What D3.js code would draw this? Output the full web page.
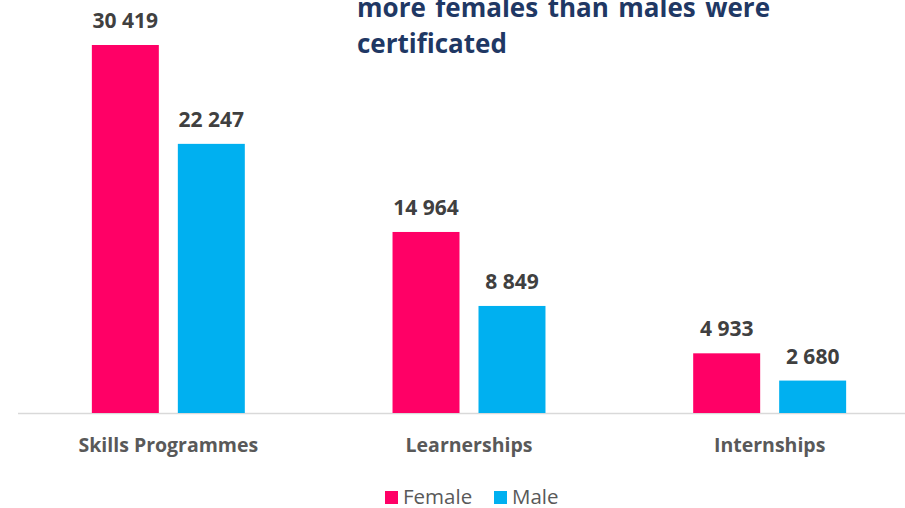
<!DOCTYPE html>
<html>
<head>
<meta charset="utf-8">
<script src="https://cdn.jsdelivr.net/npm/d3@7"></script>
<style>
  html, body { margin: 0; padding: 0; background: #fff; }
  svg { display: block; font-family: "Open Sans", sans-serif; }
</style>
</head>
<body>
<svg id="chart" width="905" height="508"></svg>
<script>
const categories = ["Skills Programmes", "Learnerships", "Internships"];
const series = ["Female", "Male"];
const femaleValues = [30419, 14964, 4933];
const maleValues = [22247, 8849, 2680];
const valueLabels = {
  Female: ["30 419", "14 964", "4 933"],
  Male: ["22 247", "8 849", "2 680"]
};
const titleLines = ["more females than males were", "certificated"];
const colors = { Female: "#FF0066", Male: "#00B0F0" };

const data = categories.map((c, i) => ({
  category: c,
  values: [
    { key: "Female", value: femaleValues[i], label: valueLabels.Female[i] },
    { key: "Male", value: maleValues[i], label: valueLabels.Male[i] }
  ]
}));

const svg = d3.select("#chart");
const baseY = 413;

const x0 = d3.scaleBand().domain(categories).range([18, 920]).padding(0);
const x1 = d3.scaleBand().domain(series).range([0, x0.bandwidth()])
  .paddingInner(0.221).paddingOuter(0.859);
const y = d3.scaleLinear().domain([0, 30419]).range([baseY, 45]);

// axis baseline
svg.append("line")
  .attr("x1", 18).attr("x2", 905)
  .attr("y1", baseY + 0.5).attr("y2", baseY + 0.5)
  .attr("stroke", "#d9d9d9").attr("stroke-width", 1.5);

const groups = svg.selectAll("g.grp").data(data).join("g")
  .attr("class", "grp")
  .attr("transform", d => `translate(${x0(d.category)},0)`);

groups.selectAll("rect").data(d => d.values).join("rect")
  .attr("x", d => x1(d.key))
  .attr("width", x1.bandwidth())
  .attr("y", d => y(d.value))
  .attr("height", d => baseY - y(d.value))
  .attr("fill", d => colors[d.key]);

groups.selectAll("text.val").data(d => d.values).join("text")
  .attr("class", "val")
  .attr("x", d => x1(d.key) + x1.bandwidth() / 2)
  .attr("y", d => y(d.value) - 17)
  .attr("text-anchor", "middle")
  .attr("font-size", 21)
  .attr("font-weight", 700)
  .attr("fill", "#404040")
  .text(d => d.label);

// category labels
const xAxis = d3.axisBottom(x0).tickSize(0).tickPadding(0);
const ax = svg.append("g").attr("transform", `translate(0,${baseY})`).call(xAxis);
ax.select(".domain").remove();
ax.selectAll("text")
  .attr("dy", 0)
  .attr("y", 39)
  .attr("font-family", "Open Sans, sans-serif")
  .attr("font-size", 19.5)
  .attr("font-weight", 700)
  .attr("fill", "#595959");

// title (justified first line)
const t1 = svg.append("text")
  .attr("x", 357).attr("y", 16.7)
  .attr("font-size", 26).attr("font-weight", 700)
  .attr("fill", "#1F3864")
  .text(titleLines[0]);
const natural = t1.node().getComputedTextLength();
const nSpaces = titleLines[0].split(" ").length - 1;
t1.attr("word-spacing", (413 - natural) / nSpaces);
svg.append("text")
  .attr("x", 357).attr("y", 53)
  .attr("font-size", 26).attr("font-weight", 700)
  .attr("fill", "#1F3864")
  .text(titleLines[1]);

// legend
const legend = svg.append("g");
const legendX = [385, 494];
series.forEach((s, i) => {
  legend.append("rect")
    .attr("x", legendX[i]).attr("y", 491)
    .attr("width", 13).attr("height", 13)
    .attr("fill", colors[s]);
  legend.append("text")
    .attr("x", legendX[i] + 18).attr("y", 503.5)
    .attr("font-size", 20.5)
    .attr("fill", "#595959")
    .text(s);
});
</script>
</body>
</html>
